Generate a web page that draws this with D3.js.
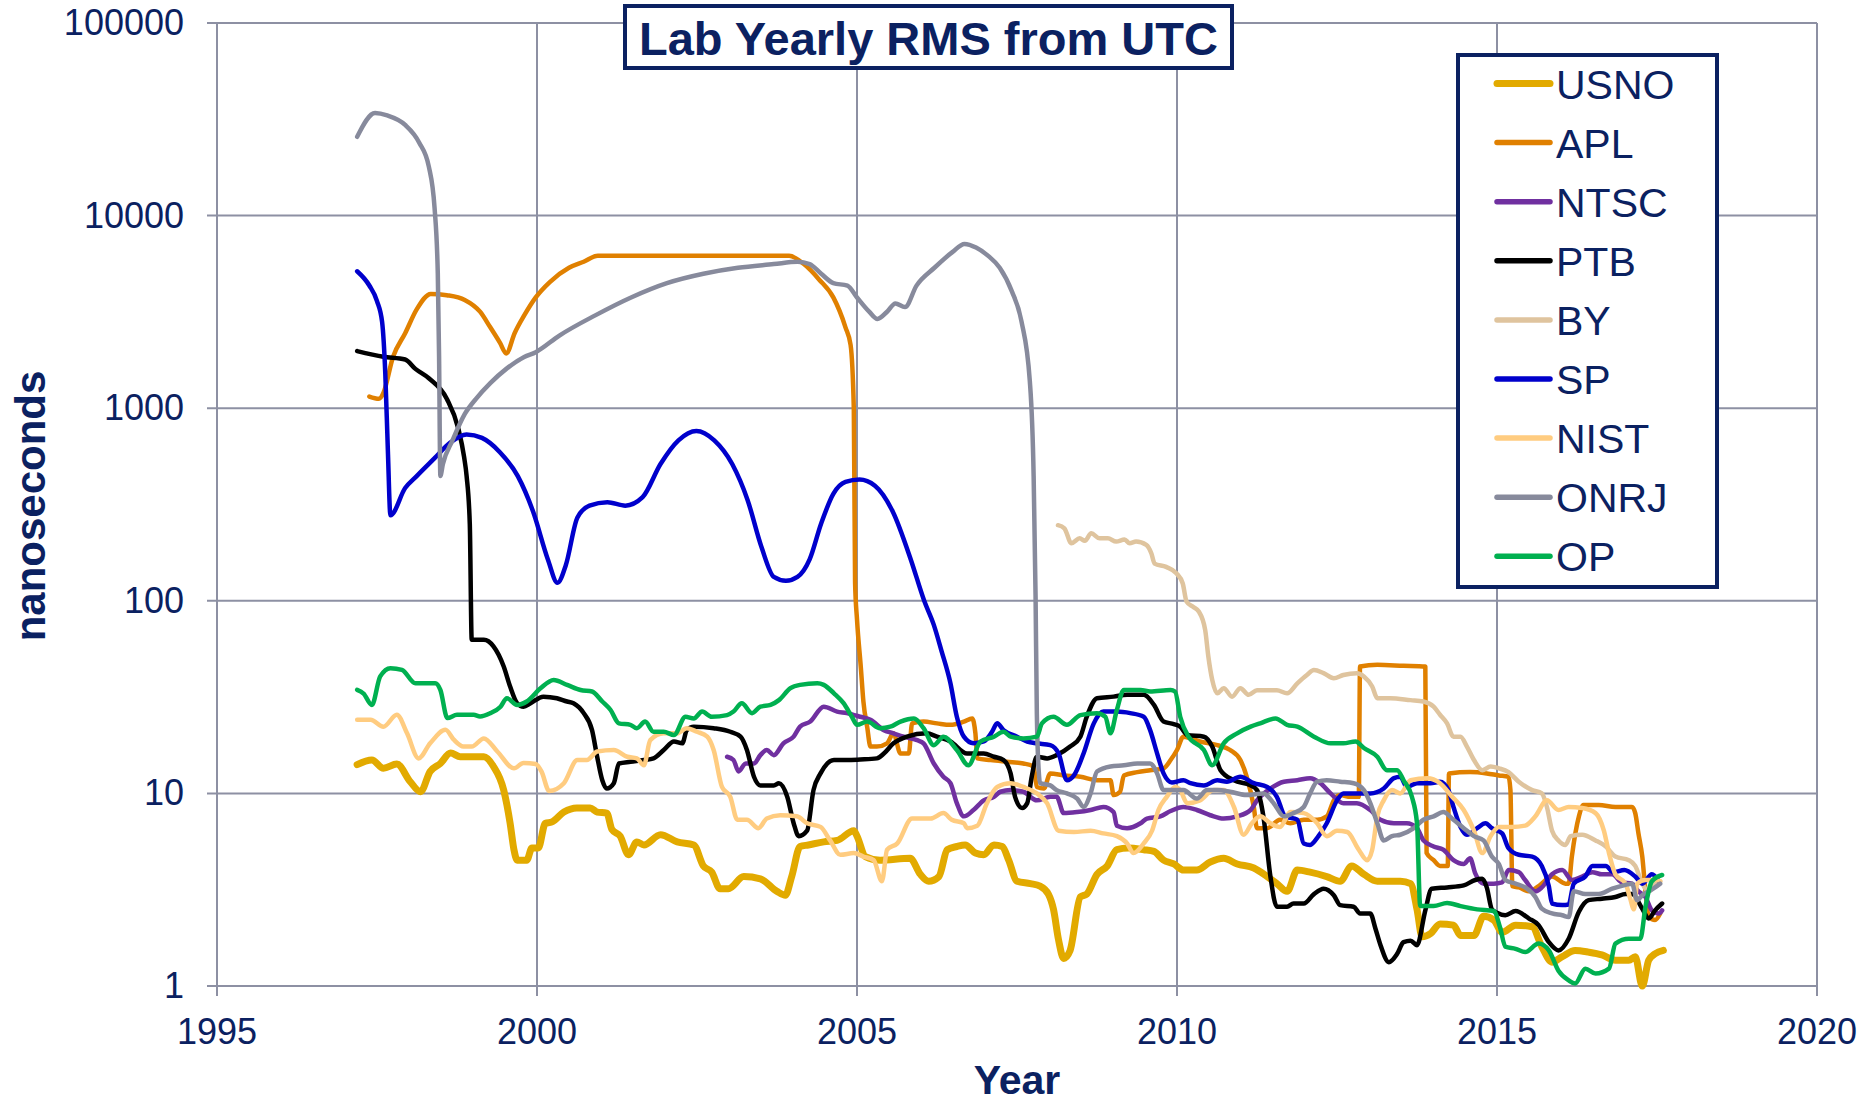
<!DOCTYPE html>
<html>

<head>
  <meta charset="utf-8">
  <title>Lab Yearly RMS from UTC</title>
  <style>
    body { margin: 0; background: #fff; }
    text { font-family: "Liberation Sans", Arial, sans-serif; }
  </style>
</head>

<body>

  <svg id="main" width="1866" height="1103"></svg>

  <script src="https://cdnjs.cloudflare.com/ajax/libs/d3/7.8.5/d3.min.js"></script>
  <script>

    // ---- data: [year, nanoseconds] ----
    const usno = [[1997.19,14.1],[1997.42,14.9],[1997.6,13.5],[1997.81,14.2],[1998.02,11.5],[1998.18,10.2],[1998.33,13.0],[1998.49,14.3],[1998.65,16.2],[1998.8,15.5],[1999.17,15.5],[1999.32,13.8],[1999.48,10.4],[1999.58,7.0],[1999.64,5.1],[1999.69,4.5],[1999.84,4.5],[1999.92,5.2],[2000.02,5.2],[2000.13,7.0],[2000.23,7.1],[2000.42,8.0],[2000.62,8.4],[2000.83,8.4],[2000.94,8.0],[2001.09,7.9],[2001.17,6.5],[2001.3,6.0],[2001.43,4.8],[2001.56,5.6],[2001.67,5.4],[2001.93,6.1],[2002.19,5.6],[2002.45,5.4],[2002.6,4.2],[2002.73,3.9],[2002.86,3.2],[2002.99,3.2],[2003.23,3.7],[2003.49,3.6],[2003.75,3.1],[2003.88,2.96],[2003.98,3.7],[2004.11,5.3],[2004.24,5.4],[2004.48,5.6],[2004.69,5.7],[2004.95,6.4],[2005.0,6.0],[2005.13,4.7],[2005.36,4.5],[2005.83,4.6],[2005.99,3.8],[2006.12,3.5],[2006.28,3.7],[2006.41,5.1],[2006.56,5.3],[2006.69,5.4],[2006.85,4.9],[2006.98,4.8],[2007.14,5.4],[2007.27,5.3],[2007.37,4.5],[2007.5,3.5],[2007.71,3.4],[2007.86,3.3],[2007.99,3.0],[2008.07,2.5],[2008.15,1.73],[2008.23,1.39],[2008.33,1.53],[2008.49,2.9],[2008.59,3.0],[2008.75,3.8],[2008.91,4.2],[2009.06,5.1],[2009.24,5.2],[2009.48,5.1],[2009.64,5.0],[2009.79,4.5],[2009.95,4.3],[2010.1,4.0],[2010.31,4.0],[2010.52,4.4],[2010.73,4.6],[2010.94,4.3],[2011.2,4.1],[2011.41,3.7],[2011.56,3.4],[2011.72,3.1],[2011.88,4.0],[2012.08,3.9],[2012.34,3.7],[2012.55,3.5],[2012.73,4.2],[2012.92,3.8],[2013.13,3.5],[2013.49,3.5],[2013.65,3.4],[2013.75,2.5],[2013.83,1.8],[2013.96,1.87],[2014.11,2.1],[2014.32,2.07],[2014.43,1.83],[2014.64,1.83],[2014.79,2.3],[2014.95,2.2],[2015.08,1.9],[2015.29,2.07],[2015.55,2.03],[2015.7,1.6],[2015.86,1.33],[2016.02,1.42],[2016.22,1.53],[2016.43,1.5],[2016.64,1.45],[2016.85,1.36],[2017.06,1.36],[2017.16,1.42],[2017.27,1.0],[2017.37,1.36],[2017.47,1.47],[2017.6,1.53]]

    const apl = [[1997.38,1150],[1997.53,1120],[1997.6,1200],[1997.75,1845],[1997.94,2450],[1998.12,3260],[1998.34,3920],[1998.59,3860],[1998.87,3650],[1999.11,3170],[1999.27,2630],[1999.42,2190],[1999.52,1925],[1999.65,2450],[1999.8,3030],[1999.98,3760],[2000.2,4520],[2000.5,5360],[2000.73,5760],[2000.95,6180],[2003.94,6180],[2004.17,5600],[2004.41,4650],[2004.63,3760],[2004.82,2630],[2004.9,2130],[2004.95,1000],[2004.97,124],[2005.0,80],[2005.06,45],[2005.1,30],[2005.16,22],[2005.21,17.5],[2005.31,17.5],[2005.47,18.2],[2005.57,20.5],[2005.68,16.1],[2005.81,16.1],[2005.86,23.1],[2006.04,23.6],[2006.25,23.1],[2006.46,22.7],[2006.67,23.6],[2006.8,24.5],[2006.85,20.5],[2006.88,15.2],[2007.09,14.9],[2007.34,14.6],[2007.6,14.3],[2007.76,13.8],[2007.81,10.8],[2007.92,10.6],[2008.02,12.7],[2008.23,12.4],[2008.49,12.2],[2008.75,11.7],[2008.96,11.7],[2009.01,9.8],[2009.11,10.2],[2009.17,12.4],[2009.38,12.9],[2009.58,13.2],[2009.79,13.5],[2009.9,14.9],[2010.0,16.8],[2010.1,19.7],[2010.36,18.6],[2010.63,17.8],[2010.83,16.8],[2010.99,14.9],[2011.09,12.2],[2011.2,8.5],[2011.25,6.6],[2011.41,6.6],[2011.61,7.3],[2011.77,7.0],[2011.98,7.3],[2012.19,7.3],[2012.34,7.6],[2012.45,9.2],[2012.55,9.8],[2012.71,9.6],[2012.84,9.6],[2012.86,45.6],[2013.13,46.5],[2013.54,46],[2013.88,45.6],[2013.9,4.9],[2014.01,4.5],[2014.11,4.2],[2014.23,4.2],[2014.25,12.7],[2014.58,12.9],[2014.84,12.7],[2015.03,12.4],[2015.18,12.2],[2015.21,10.4],[2015.24,3.3],[2015.34,3.25],[2015.5,3.1],[2015.65,3.3],[2015.86,3.7],[2016.07,3.4],[2016.12,3.4],[2016.17,4.7],[2016.28,7.6],[2016.35,8.7],[2016.59,8.7],[2016.85,8.5],[2017.11,8.5],[2017.16,7.9],[2017.21,6.2],[2017.27,4.7],[2017.32,3.1],[2017.37,2.3],[2017.47,2.2],[2017.55,2.38]]

    const ntsc = [[2002.97,15.5],[2003.07,14.9],[2003.15,13.0],[2003.26,14.3],[2003.39,14.3],[2003.49,15.8],[2003.59,16.8],[2003.7,15.8],[2003.85,18.2],[2004.01,19.7],[2004.11,22.2],[2004.27,23.6],[2004.48,28.2],[2004.69,26.6],[2004.84,26.1],[2005.05,25],[2005.21,24.1],[2005.42,21.3],[2005.57,20.5],[2005.73,19.7],[2005.94,18.9],[2006.04,18.2],[2006.2,14.3],[2006.35,12.2],[2006.46,11.3],[2006.56,8.9],[2006.67,7.6],[2006.82,8.2],[2006.98,9.2],[2007.14,9.6],[2007.24,10.2],[2007.4,10.4],[2007.6,10.2],[2007.81,9.2],[2008.02,9.6],[2008.12,9.6],[2008.23,7.9],[2008.44,8.0],[2008.65,8.2],[2008.85,8.5],[2009.01,8.0],[2009.06,6.8],[2009.22,6.6],[2009.43,7.0],[2009.53,7.4],[2009.74,7.6],[2009.9,8.1],[2010.1,8.5],[2010.31,8.2],[2010.52,7.7],[2010.73,7.4],[2010.94,7.6],[2011.15,8.2],[2011.25,9.2],[2011.46,10.6],[2011.67,11.5],[2011.88,11.7],[2012.08,12.0],[2012.24,11.3],[2012.4,10],[2012.6,8.9],[2012.81,8.9],[2013.02,8.2],[2013.18,7.3],[2013.39,7.0],[2013.59,7.0],[2013.75,6.6],[2013.85,5.7],[2014.01,5.3],[2014.16,5.1],[2014.32,4.5],[2014.48,4.3],[2014.58,4.6],[2014.66,3.84],[2014.79,3.4],[2014.95,3.4],[2015.08,3.45],[2015.18,4.0],[2015.34,3.9],[2015.44,3.55],[2015.6,3.1],[2015.7,3.25],[2015.86,3.8],[2016.02,4.0],[2016.17,3.55],[2016.33,3.7],[2016.49,3.9],[2016.64,3.8],[2016.8,3.8],[2016.95,3.45],[2017.11,3.4],[2017.21,3.1],[2017.32,2.9],[2017.42,2.47],[2017.53,2.38],[2017.58,2.47]]

    const ptb = [[1997.19,1980],[1997.6,1850],[1997.94,1790],[1998.1,1600],[1998.31,1430],[1998.59,1120],[1998.77,785],[1998.86,560],[1998.9,445],[1998.95,250],[1998.98,62.7],[1999.17,62.7],[1999.32,58],[1999.48,45.6],[1999.58,35.9],[1999.69,29.4],[1999.79,28.2],[1999.9,29.4],[2000.1,31.8],[2000.31,31.2],[2000.47,30],[2000.57,29.4],[2000.73,26.1],[2000.86,21.3],[2000.94,15.5],[2001.02,11.7],[2001.09,10.6],[2001.2,11.3],[2001.28,14.3],[2001.46,14.6],[2001.67,14.9],[2001.82,15.2],[2001.98,16.8],[2002.14,18.6],[2002.27,18.2],[2002.34,21.3],[2002.45,22.2],[2002.76,21.8],[2003.02,20.9],[2003.18,19.7],[2003.28,16.8],[2003.39,12.2],[2003.49,11.0],[2003.7,11.0],[2003.78,11.3],[2003.91,9.6],[2004.01,7.0],[2004.09,6.0],[2004.22,6.4],[2004.32,10.4],[2004.43,12.7],[2004.64,14.9],[2004.84,14.9],[2005.05,15.0],[2005.31,15.2],[2005.42,16.1],[2005.57,18.2],[2005.78,19.7],[2006.09,20.5],[2006.25,19.7],[2006.46,18.6],[2006.72,16.1],[2006.98,16.1],[2007.14,15.5],[2007.29,14.9],[2007.4,12.7],[2007.47,9.6],[2007.58,8.4],[2007.66,8.9],[2007.73,12.2],[2007.81,15.5],[2007.97,15.2],[2008.12,15.8],[2008.33,17.5],[2008.49,19.7],[2008.59,25],[2008.75,31.2],[2009.01,31.8],[2009.22,32.5],[2009.48,32.5],[2009.64,28.8],[2009.79,23.6],[2009.95,22.9],[2010.05,22.2],[2010.16,20.1],[2010.42,19.7],[2010.55,17.5],[2010.68,13.2],[2010.89,11.7],[2011.15,11.0],[2011.25,10.4],[2011.35,7.6],[2011.46,3.7],[2011.56,2.58],[2011.72,2.58],[2011.82,2.68],[2011.98,2.68],[2012.14,3.0],[2012.29,3.2],[2012.45,2.96],[2012.55,2.63],[2012.76,2.58],[2012.86,2.38],[2013.02,2.38],[2013.1,1.99],[2013.18,1.63],[2013.31,1.33],[2013.44,1.47],[2013.54,1.69],[2013.65,1.72],[2013.75,1.63],[2013.88,2.47],[2013.98,3.2],[2014.22,3.25],[2014.48,3.33],[2014.66,3.55],[2014.77,3.6],[2014.84,3.25],[2014.92,2.5],[2015.0,2.4],[2015.13,2.33],[2015.29,2.45],[2015.5,2.24],[2015.65,2.07],[2015.81,1.69],[2015.96,1.53],[2016.12,1.76],[2016.28,2.43],[2016.43,2.79],[2016.64,2.84],[2016.85,2.9],[2017.01,3.0],[2017.11,3.0],[2017.27,2.52],[2017.37,2.24],[2017.47,2.47],[2017.58,2.68]]

    const by = [[2008.14,247],[2008.24,238],[2008.35,199],[2008.48,211],[2008.56,205],[2008.66,224],[2008.79,211],[2008.92,211],[2009.05,203],[2009.18,208],[2009.26,199],[2009.36,203],[2009.52,195],[2009.6,176],[2009.65,156],[2009.83,150],[2009.99,139],[2010.09,123],[2010.15,99],[2010.25,93],[2010.34,88],[2010.44,70.7],[2010.49,51.3],[2010.55,38.9],[2010.63,33.1],[2010.73,35.2],[2010.86,31.8],[2010.99,35.2],[2011.12,32.5],[2011.25,34.3],[2011.41,34.3],[2011.56,34.3],[2011.72,33.1],[2011.88,37.3],[2012.03,41.2],[2012.14,43.7],[2012.29,42.1],[2012.45,39.6],[2012.6,41.2],[2012.81,42.1],[2012.92,40.5],[2013.05,35.9],[2013.13,31.2],[2013.33,31.2],[2013.65,30.5],[2013.85,30],[2014.01,28.2],[2014.11,25.6],[2014.22,23.1],[2014.32,19.7],[2014.43,19.7],[2014.53,17.5],[2014.64,14.9],[2014.77,13.2],[2014.9,13.8],[2015.03,13.5],[2015.18,12.9],[2015.34,11.5],[2015.55,10.4],[2015.7,10],[2015.78,8.5],[2015.86,6.4],[2015.96,5.7],[2016.07,5.4],[2016.15,6.0],[2016.33,6.1],[2016.54,5.7],[2016.7,5.3],[2016.85,4.7],[2017.06,4.5],[2017.16,4.2],[2017.27,3.4],[2017.37,3.1],[2017.47,3.4],[2017.55,3.5]]

    const sp = [[1997.19,5140],[1997.38,4335],[1997.5,3600],[1997.58,2800],[1997.63,1500],[1997.67,600],[1997.71,278],[1997.94,385],[1998.12,444],[1998.4,550],[1998.64,661],[1998.9,731],[1999.14,701],[1999.42,591],[1999.7,444],[1999.94,290],[2000.17,164],[2000.32,124],[2000.45,153],[2000.63,270],[2000.82,312],[2001.1,325],[2001.38,312],[2001.65,345],[2001.93,513],[2002.21,681],[2002.49,762],[2002.77,681],[2003.05,513],[2003.29,334],[2003.51,189],[2003.7,133],[2003.89,127],[2004.07,133],[2004.26,164],[2004.44,252],[2004.63,359],[2004.82,414],[2005.04,426],[2005.28,396],[2005.56,290],[2005.84,164],[2006.05,100],[2006.2,75],[2006.32,55],[2006.46,37.3],[2006.56,25],[2006.67,19.7],[2006.82,18.2],[2006.98,18.6],[2007.11,20.9],[2007.19,23.1],[2007.29,21.3],[2007.5,19.7],[2007.66,18.6],[2007.81,18.2],[2008.02,17.8],[2008.15,16.1],[2008.28,11.7],[2008.39,12.4],[2008.54,16.1],[2008.7,23.1],[2008.85,26.6],[2009.06,26.6],[2009.27,26.1],[2009.48,25],[2009.58,21.3],[2009.69,16.1],[2009.79,12.7],[2009.92,11.4],[2010.1,11.7],[2010.21,11.3],[2010.42,11.0],[2010.63,11.7],[2010.78,11.5],[2010.99,12.2],[2011.2,11.3],[2011.41,10.8],[2011.56,9.6],[2011.69,7.6],[2011.88,7.3],[2011.98,5.5],[2012.08,5.4],[2012.21,6.0],[2012.34,7.0],[2012.5,9.2],[2012.6,10],[2012.81,10],[2013.02,10],[2013.23,10.6],[2013.39,12.0],[2013.49,12.2],[2013.59,10.8],[2013.75,11.3],[2013.96,11.3],[2014.11,11.5],[2014.24,10.4],[2014.32,8.5],[2014.43,6.7],[2014.53,6.1],[2014.69,6.6],[2014.82,7.0],[2014.92,6.6],[2015.08,6.2],[2015.18,5.2],[2015.34,4.8],[2015.55,4.7],[2015.7,4.2],[2015.81,3.3],[2015.86,2.68],[2016.02,2.63],[2016.12,2.65],[2016.2,3.4],[2016.38,3.7],[2016.49,4.2],[2016.7,4.2],[2016.82,3.9],[2016.99,4.0],[2017.16,3.7],[2017.27,3.4],[2017.42,3.8],[2017.53,3.5]]

    const nist = [[1997.19,24.1],[1997.4,24.1],[1997.6,22.2],[1997.81,25.6],[1997.97,20.5],[1998.15,15.2],[1998.33,18.2],[1998.57,21.4],[1998.7,19],[1998.85,17.5],[1998.98,17.5],[1999.17,19.3],[1999.38,16.5],[1999.64,13.5],[1999.79,14.4],[1999.98,14.2],[2000.07,13.0],[2000.19,10.3],[2000.42,11.3],[2000.63,14.9],[2000.78,14.9],[2000.94,16.5],[2001.2,16.8],[2001.41,15.5],[2001.56,15.2],[2001.67,14.0],[2001.77,18.9],[2001.98,20.5],[2002.19,20.5],[2002.34,21.8],[2002.5,20.9],[2002.66,19.7],[2002.76,16.8],[2002.89,10.8],[2003.02,9.6],[2003.13,7.3],[2003.28,7.3],[2003.46,6.6],[2003.59,7.4],[2003.8,7.7],[2004.06,7.6],[2004.22,7.0],[2004.43,6.7],[2004.58,5.7],[2004.74,4.8],[2004.95,4.9],[2005.1,4.7],[2005.26,4.5],[2005.39,3.5],[2005.47,5.1],[2005.63,5.5],[2005.86,7.4],[2006.15,7.4],[2006.35,7.9],[2006.48,7.3],[2006.67,7.0],[2006.72,6.6],[2006.88,6.8],[2007.03,8.9],[2007.19,10.8],[2007.4,11.3],[2007.6,10.8],[2007.81,10],[2007.97,8.9],[2008.15,6.4],[2008.39,6.3],[2008.65,6.4],[2008.85,6.2],[2009.06,6.0],[2009.22,5.5],[2009.32,4.9],[2009.48,5.5],[2009.61,6.4],[2009.71,8.2],[2009.84,9.6],[2009.97,10.8],[2010.05,10.4],[2010.16,8.9],[2010.36,9.2],[2010.57,10.4],[2010.73,10.4],[2010.89,8.5],[2011.04,6.1],[2011.17,7.0],[2011.3,7.6],[2011.46,7.0],[2011.61,6.7],[2011.77,8.0],[2011.98,7.9],[2012.19,7.0],[2012.34,6.0],[2012.5,6.4],[2012.66,6.3],[2012.84,5.1],[2012.97,4.5],[2013.05,5.1],[2013.13,7.6],[2013.23,9.2],[2013.36,10.4],[2013.49,10],[2013.65,11.7],[2013.91,12.0],[2014.11,11.3],[2014.3,9.6],[2014.48,8.2],[2014.64,6.4],[2014.77,4.9],[2014.9,6.0],[2015.03,6.7],[2015.23,6.7],[2015.44,6.8],[2015.6,7.6],[2015.78,9.2],[2015.96,8.2],[2016.12,8.5],[2016.33,8.4],[2016.54,7.9],[2016.67,6.4],[2016.75,4.9],[2016.85,3.8],[2017.01,3.4],[2017.08,2.85],[2017.14,2.5],[2017.19,3.4],[2017.32,3.55],[2017.47,3.55],[2017.55,3.5]]

    const onrj = [[1997.19,25640],[1997.47,34070],[1997.66,33100],[1997.94,29560],[1998.16,23900],[1998.31,17960],[1998.4,10900],[1998.45,5000],[1998.47,1845],[1998.49,445],[1998.53,513],[1998.68,681],[1998.87,931],[1999.05,1122],[1999.27,1350],[1999.52,1600],[1999.8,1845],[1999.98,1954],[2000.35,2384],[2000.91,3034],[2001.47,3758],[2002.03,4460],[2002.6,4990],[2003.14,5360],[2003.7,5600],[2004.07,5760],[2004.26,5600],[2004.44,4990],[2004.63,4460],[2004.85,4330],[2005.0,3758],[2005.19,3170],[2005.32,2906],[2005.47,3170],[2005.6,3500],[2005.75,3350],[2005.93,4330],[2006.21,5360],[2006.49,6460],[2006.68,7130],[2006.86,6830],[2007.05,6180],[2007.23,5360],[2007.42,4040],[2007.57,2825],[2007.7,1387],[2007.76,445],[2007.79,107],[2007.81,26],[2007.84,13],[2007.86,11.3],[2008.02,11.0],[2008.12,10.4],[2008.28,10],[2008.44,9.4],[2008.54,8.5],[2008.65,10],[2008.75,13.0],[2008.96,13.8],[2009.17,14.0],[2009.38,14.3],[2009.58,14.3],[2009.69,12.7],[2009.79,10.4],[2009.95,10.4],[2010.1,10.4],[2010.31,9.4],[2010.47,10.4],[2010.63,10.4],[2010.83,10.2],[2011.09,9.8],[2011.35,10],[2011.51,8.9],[2011.67,7.6],[2011.82,7.9],[2011.98,8.5],[2012.08,10],[2012.19,11.5],[2012.34,11.7],[2012.55,11.5],[2012.76,11.3],[2012.92,10.4],[2013.02,8.9],[2013.13,7.0],[2013.23,5.7],[2013.36,6.0],[2013.49,6.1],[2013.7,6.6],[2013.85,7.3],[2014.01,7.6],[2014.16,8.0],[2014.32,7.3],[2014.48,6.6],[2014.64,6.0],[2014.79,5.7],[2014.92,4.7],[2015.03,4.3],[2015.13,3.55],[2015.29,3.4],[2015.44,3.25],[2015.6,2.9],[2015.7,2.52],[2015.86,2.38],[2016.02,2.33],[2016.12,2.28],[2016.2,3.1],[2016.38,3.0],[2016.59,3.0],[2016.8,3.2],[2017.01,3.35],[2017.11,3.4],[2017.19,2.79],[2017.27,2.96],[2017.37,3.1],[2017.47,3.25],[2017.55,3.4]]

    const op = [[1997.19,34.5],[1997.29,33],[1997.42,28.8],[1997.55,40.5],[1997.71,44.7],[1997.89,43.8],[1998.1,37.3],[1998.41,37.3],[1998.49,34.5],[1998.6,24.6],[1998.75,25.6],[1999.01,25.6],[1999.11,25.1],[1999.27,26.1],[1999.43,28.2],[1999.53,31.2],[1999.69,28.8],[1999.84,30],[2000.05,35],[2000.26,38.8],[2000.47,36.6],[2000.68,34.4],[2000.86,33.8],[2001.02,30],[2001.15,27.1],[2001.28,23.1],[2001.46,22.7],[2001.56,21.8],[2001.69,23.6],[2001.82,20.9],[2001.98,20.9],[2002.14,20.1],[2002.32,25],[2002.45,24.5],[2002.58,26.6],[2002.73,25],[2002.97,25.5],[2003.07,26.6],[2003.2,29.4],[2003.36,26.1],[2003.49,28.2],[2003.65,28.8],[2003.78,30.5],[2003.96,35.2],[2004.11,36.6],[2004.38,37.3],[2004.48,36.6],[2004.64,33.1],[2004.79,29.4],[2004.92,25],[2005.0,22.7],[2005.16,23.6],[2005.36,21.8],[2005.52,22.2],[2005.68,23.6],[2005.89,24.5],[2006.04,21.8],[2006.2,17.8],[2006.35,19.7],[2006.56,16.8],[2006.74,14.0],[2006.93,18.6],[2007.14,19.7],[2007.29,20.9],[2007.4,19.7],[2007.6,19.3],[2007.81,19.7],[2007.89,23.1],[2008.07,25],[2008.28,22.7],[2008.49,25.5],[2008.75,26.1],[2008.88,25],[2008.96,20.5],[2009.06,27.1],[2009.17,34.4],[2009.43,34.4],[2009.58,33.8],[2009.9,34.4],[2009.97,33.8],[2010.05,25],[2010.18,19.7],[2010.42,16.8],[2010.55,14.0],[2010.73,18.2],[2010.94,20.5],[2011.15,22.2],[2011.3,23.1],[2011.54,24.5],[2011.72,22.7],[2011.88,22.2],[2012.14,19.7],[2012.4,18.2],[2012.6,18.2],[2012.79,18.6],[2012.92,17.2],[2013.13,15.5],[2013.28,13.2],[2013.44,13.2],[2013.54,11.7],[2013.67,9.6],[2013.75,7.0],[2013.8,2.6],[2014.01,2.6],[2014.22,2.7],[2014.43,2.6],[2014.69,2.5],[2014.95,2.45],[2015.05,2.0],[2015.13,1.6],[2015.29,1.56],[2015.44,1.5],[2015.65,1.66],[2015.81,1.53],[2015.96,1.2],[2016.12,1.07],[2016.22,1.03],[2016.38,1.23],[2016.54,1.16],[2016.75,1.23],[2016.85,1.66],[2017.06,1.76],[2017.24,1.76],[2017.32,2.58],[2017.42,3.5],[2017.58,3.77]]

    const labNames = ['USNO', 'APL', 'NTSC', 'PTB', 'BY', 'SP', 'NIST', 'ONRJ', 'OP']
    const yearTicks = [1995, 2000, 2005, 2010, 2015, 2020]
    const nsTicks = [1, 10, 100, 1000, 10000, 100000]

    function getSvgInfo() {
      const svg = d3.select('#main')
      const width = +svg.attr('width')
      const height = +svg.attr('height')
      const margin = { top: 23, right: 49, bottom: 117, left: 217 }
      const innerHeight = height - margin.top - margin.bottom
      const innerWidth = width - margin.left - margin.right
      const config = {
        navy: '#0b2161',
        grid: '#8d90a3',
        colors: ['#e2aa00', '#e08000', '#7030a0', '#000000', '#dfc49e', '#0000cc', '#ffcc80', '#878a9c', '#00b050'],
        widths: [7, 4.5, 4.5, 4.5, 4.5, 4.5, 4.5, 4.5, 4.5],
        tickTxt: { fontSize: '36px' },
        chartTitle: { text: 'Lab Yearly RMS from UTC', fontSize: '47px' }
      }
      return { svg, width, height, margin, innerHeight, innerWidth, config }
    }

    const { svg, width, height, margin, innerHeight, innerWidth, config } = getSvgInfo()

    const series = [usno, apl, ntsc, ptb, by, sp, nist, onrj, op]

    const x = d3.scaleLinear().domain([1995, 2020]).range([margin.left, margin.left + innerWidth])
    const y = d3.scaleLog().domain([1, 100000]).range([margin.top + innerHeight, margin.top])

    // grid lines (with short outside ticks)
    const grid = svg.append('g').attr('stroke', config.grid).attr('stroke-width', 2)
    grid.selectAll('line.h')
      .data(nsTicks)
      .join('line')
      .attr('class', 'h')
      .attr('x1', margin.left - 10).attr('x2', margin.left + innerWidth)
      .attr('y1', d => y(d)).attr('y2', d => y(d))
    grid.selectAll('line.v')
      .data(yearTicks)
      .join('line')
      .attr('class', 'v')
      .attr('x1', d => x(d)).attr('x2', d => x(d))
      .attr('y1', margin.top).attr('y2', margin.top + innerHeight + 10)

    // tick labels
    svg.append('g')
      .selectAll('text')
      .data(nsTicks)
      .join('text')
      .text(d => d3.format('d')(d))
      .attr('x', margin.left - 33)
      .attr('y', d => y(d) + 12)
      .attr('text-anchor', 'end')
      .attr('font-size', config.tickTxt.fontSize)
      .attr('fill', config.navy)

    svg.append('g')
      .selectAll('text')
      .data(yearTicks)
      .join('text')
      .text(d => d)
      .attr('x', d => x(d))
      .attr('y', margin.top + innerHeight + 58)
      .attr('text-anchor', 'middle')
      .attr('font-size', config.tickTxt.fontSize)
      .attr('fill', config.navy)

    // lines
    const line = d3.line()
      .x(d => x(d[0]))
      .y(d => y(d[1]))
      .curve(d3.curveMonotoneX)

    svg.append('g')
      .selectAll('path')
      .data(series)
      .join('path')
      .attr('fill', 'none')
      .attr('stroke', (d, i) => config.colors[i])
      .attr('stroke-width', (d, i) => config.widths[i])
      .attr('stroke-linejoin', 'round')
      .attr('stroke-linecap', 'round')
      .attr('d', line)

    // axis titles
    svg.append('text').text('Year')
      .attr('x', 1017).attr('y', 1094)
      .attr('text-anchor', 'middle')
      .attr('font-size', '41px').attr('font-weight', 'bold')
      .attr('fill', config.navy)

    svg.append('text').text('nanoseconds')
      .attr('transform', 'translate(45,506) rotate(-90)')
      .attr('text-anchor', 'middle')
      .attr('font-size', '42px').attr('font-weight', 'bold')
      .attr('fill', config.navy)

    setChartTitle()
    setLegend()

    function setChartTitle() {
      const g = svg.append('g')
      g.append('rect')
        .attr('x', 625).attr('y', 6).attr('width', 607).attr('height', 62)
        .attr('fill', '#fff').attr('stroke', config.navy).attr('stroke-width', 4)
      g.append('text').text(config.chartTitle.text)
        .attr('x', 928.5).attr('y', 55)
        .attr('text-anchor', 'middle')
        .attr('font-size', config.chartTitle.fontSize)
        .attr('font-weight', 'bold')
        .attr('fill', config.navy)
    }

    function setLegend() {
      const g = svg.append('g')
      g.append('rect')
        .attr('x', 1458).attr('y', 55).attr('width', 259).attr('height', 532)
        .attr('fill', '#fff').attr('stroke', config.navy).attr('stroke-width', 4)
      const item = g.selectAll('g.item')
        .data(labNames)
        .join('g')
        .attr('class', 'item')
        .attr('transform', (d, i) => `translate(1497,${83.5 + i * 59.1})`)
      item.append('line')
        .attr('x1', 0).attr('x2', 53)
        .attr('stroke', (d, i) => config.colors[i])
        .attr('stroke-width', (d, i) => i === 0 ? 7 : 5.5)
        .attr('stroke-linecap', 'round')
      item.append('text').text(d => d)
        .attr('x', 59).attr('y', 15)
        .attr('font-size', '41px')
        .attr('fill', config.navy)
    }

  </script>
</body>

</html>
